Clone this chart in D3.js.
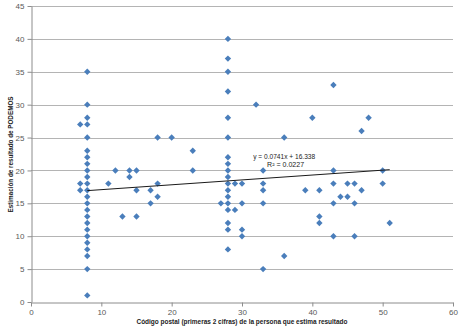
<!DOCTYPE html>
<html><head><meta charset="utf-8">
<script src="https://cdn.jsdelivr.net/npm/d3@7"></script>
<style>html,body{margin:0;padding:0;background:#fff;}svg{display:block;}</style>
</head><body>
<script>
// Data: postal code (first 2 digits) -> estimated PODEMOS result
const xVals = [7,7,7,
  8,8,8,8,8,8,8,8,8,8,8,8,8,8,8,8,8,8,8,8,8,8,8,8,
  11,12,13,14,14,15,15,15,17,17,18,18,18,20,23,23,27,
  28,28,28,28,28,28,28,28,28,28,28,28,28,28,28,28,28,28,
  29,29,30,30,30,30,32,33,33,33,33,33,36,36,39,40,41,41,41,
  43,43,43,43,43,44,45,45,46,46,46,47,47,48,50,50,51];
const yVals = [27,18,17,
  35,30,28,27,25,23,22,21,20,19,18,17,16,15,14,13,12,11,10,9,8,7,5,1,
  18,20,13,20,19,20,17,13,17,15,25,18,16,25,23,20,15,
  40,37,35,32,28,25,22,21,20,19,18,17,16,15,14,12,11,8,
  18,14,18,15,11,10,30,20,18,17,15,5,25,7,17,28,17,13,12,
  33,20,18,15,10,16,18,16,18,15,10,26,17,28,20,18,12];
const xTicks = [0,10,20,30,40,50,60];
const yTicks = [0,5,10,15,20,25,30,35,40,45];
const trendSlope = 0.0741, trendIntercept = 16.338;
const trendRange = [8, 51];
const eqLines = ["y = 0.0741x + 16.338", "R² = 0.0227"];
const xTitle = "Código postal (primeras 2 cifras) de la persona que estima resultado";
const yTitle = "Estimación de resultado de PODEMOS";

const W = 460, H = 336;
const m = {left: 31, right: 7, top: 6, bottom: 34};
const svg = d3.select("body").append("svg").attr("width", W).attr("height", H);
const x = d3.scaleLinear().domain([0, 60]).range([m.left, W - m.right]);
const y = d3.scaleLinear().domain([0, 45]).range([H - m.bottom, m.top]);
const font = "'Liberation Sans', Arial, sans-serif";

// gridlines
svg.append("g").selectAll("line").data(yTicks.filter(d => d > 0)).join("line")
  .attr("x1", x(0)).attr("x2", x(60))
  .attr("y1", d => Math.round(y(d)) + 0.5).attr("y2", d => Math.round(y(d)) + 0.5)
  .attr("stroke", "#b4b4b4").attr("stroke-width", 1);

// axes
const xAxis = d3.axisBottom(x).tickValues(xTicks).tickSize(4).tickSizeOuter(0).tickPadding(3);
const yAxis = d3.axisLeft(y).tickValues(yTicks).tickSize(4).tickSizeOuter(0).tickPadding(3);
const gx = svg.append("g").attr("transform", `translate(0,${Math.round(y(0)) + 0.5})`).call(xAxis);
const gy = svg.append("g").attr("transform", `translate(${Math.round(x(0)) + 0.5},0)`).call(yAxis);
[gx, gy].forEach(g => {
  g.select(".domain").attr("stroke", "#8c8c8c");
  g.selectAll(".tick line").attr("stroke", "#8c8c8c");
  g.selectAll(".tick text").attr("fill", "#595959").style("font-family", font).style("font-size", "8px");
});

// points (diamonds)
const pts = xVals.map((v, i) => ({x: v, y: yVals[i]}));
const r = 3.2;
svg.append("g").selectAll("path").data(pts).join("path")
  .attr("d", d => {
    const cx = x(d.x), cy = y(d.y);
    return `M${cx},${cy - r}L${cx + r},${cy}L${cx},${cy + r}L${cx - r},${cy}Z`;
  })
  .attr("fill", "#4a7ebb");

// trendline
const line = d3.line().x(d => x(d)).y(d => y(trendSlope * d + trendIntercept));
svg.append("path").datum(trendRange).attr("d", line)
  .attr("stroke", "#1a1a1a").attr("stroke-width", 1).attr("fill", "none");

// equation
const eq = svg.append("g").style("font-family", font).style("font-size", "7px").attr("fill", "#222");
eq.append("text").attr("x", x(36)).attr("y", y(21.8)).attr("text-anchor", "middle")
  .attr("textLength", 62).attr("lengthAdjust", "spacingAndGlyphs").text(eqLines[0]);
eq.append("text").attr("x", x(36.2)).attr("y", y(20.55)).attr("text-anchor", "middle")
  .attr("textLength", 37).attr("lengthAdjust", "spacingAndGlyphs").text(eqLines[1]);

// axis titles
svg.append("text").attr("x", (x(0) + x(60)) / 2).attr("y", 324).attr("text-anchor", "middle")
  .style("font-family", font).style("font-size", "7.5px").style("font-weight", "bold").attr("fill", "#222")
  .attr("textLength", 211).attr("lengthAdjust", "spacingAndGlyphs").text(xTitle);
svg.append("text").attr("transform", `translate(13,${(y(0) + y(45)) / 2 + 0.5}) rotate(-90)`)
  .attr("text-anchor", "middle")
  .style("font-family", font).style("font-size", "7.5px").style("font-weight", "bold").attr("fill", "#222")
  .attr("textLength", 116).attr("lengthAdjust", "spacingAndGlyphs").text(yTitle);
</script>
</body></html>
